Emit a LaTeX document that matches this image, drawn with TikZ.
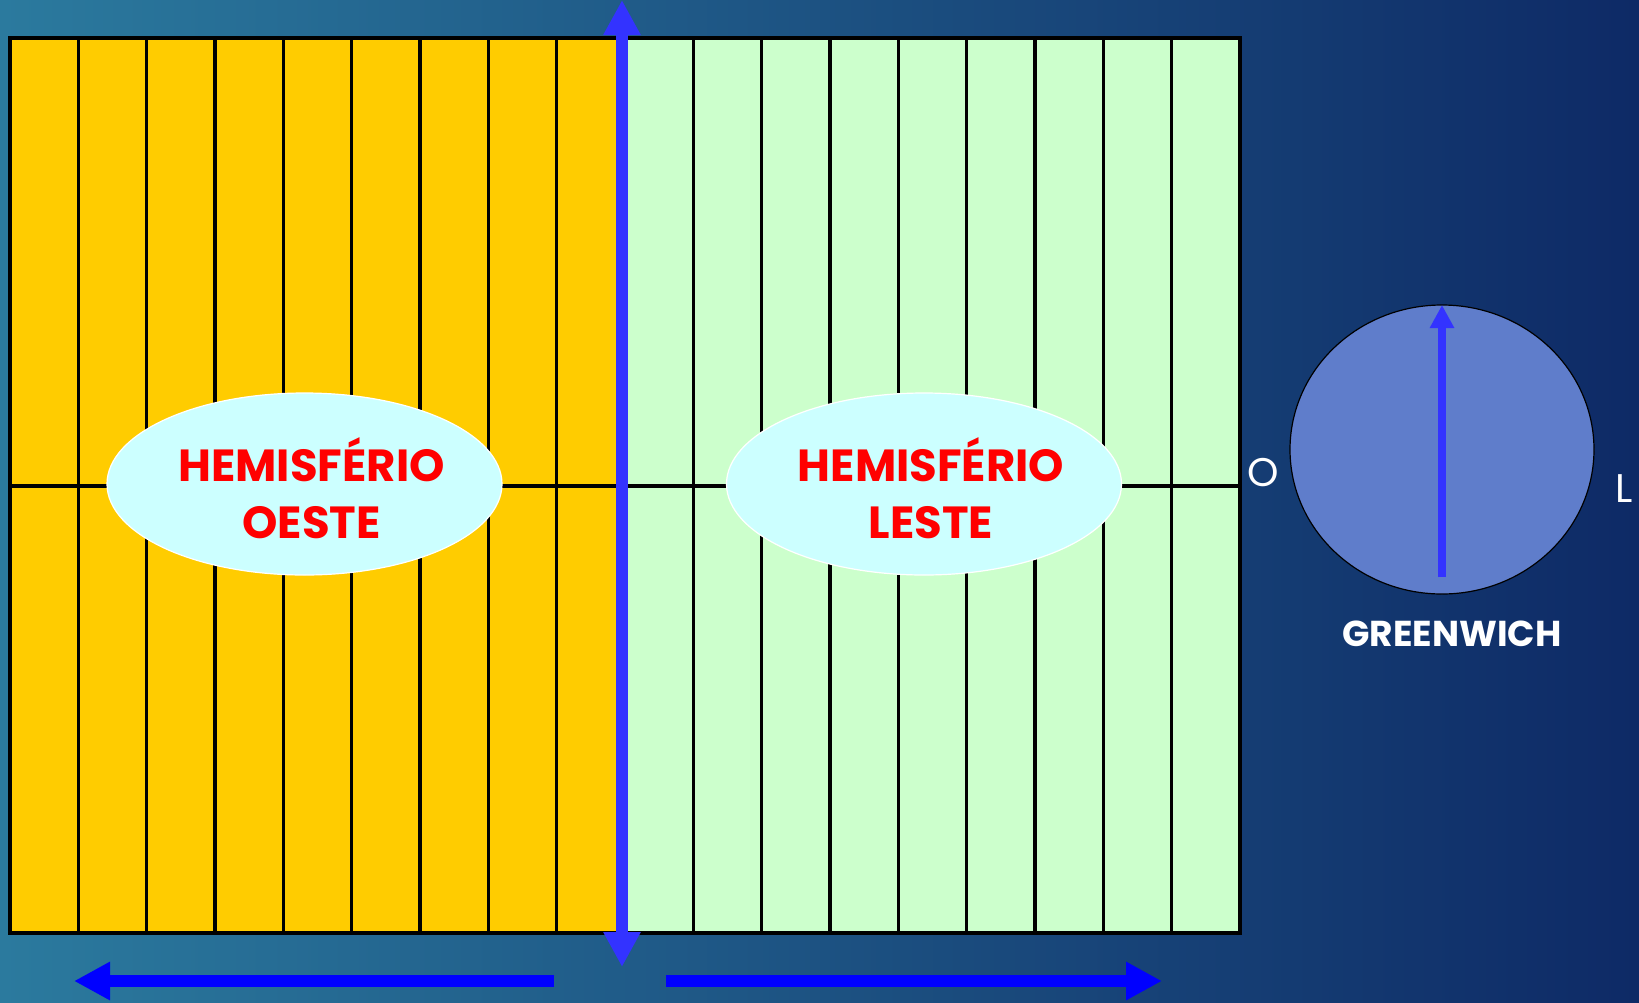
\documentclass[tikz,border=0pt]{standalone}
\usepackage{fontspec}
\setmainfont{Poppins}
\usetikzlibrary{arrows.meta,shapes.geometric}
\definecolor{seablue}{RGB}{43,122,158}
\definecolor{deepnavy}{RGB}{14,42,102}
\definecolor{westyellow}{RGB}{255,204,0}
\definecolor{eastgreen}{RGB}{204,255,204}
\definecolor{paleaqua}{RGB}{204,255,255}
\definecolor{globeblue}{RGB}{95,125,203}
\definecolor{axisblue}{RGB}{51,51,255}
\definecolor{pureblue}{RGB}{0,0,255}
\definecolor{hemired}{RGB}{255,0,0}

\begin{document}
\begin{tikzpicture}[x=0.5pt,y=-0.5pt,
    hemi/.style={ellipse,fill=paleaqua,draw=white,line width=0.6pt,
      minimum width=197.5pt,minimum height=91pt,inner sep=0pt},
    hemitext/.style={anchor=base,text=hemired,inner sep=0pt,
      font=\fontsize{22.5}{28}\selectfont\bfseries},
    sidetext/.style={anchor=base,text=white,inner sep=0pt,
      font=\fontsize{20}{24}\selectfont},
    globe/.style={ellipse,fill=globeblue,draw=black,line width=0.6pt,
      minimum width=152pt,minimum height=144.5pt,inner sep=0pt,outer sep=0pt},
    bigarrow/.style={line width=6pt,-{Triangle[length=18pt,width=18pt]}}]
       \useasboundingbox (0,0) rectangle (1639,1002);
       % background
       \shade[left color=seablue,middle color=seablue!72!deepnavy,right color=deepnavy]
         (0,0) rectangle (1639,1002);
       % the two halves of the grid
       \fill[westyellow] (10,38) rectangle (622,933);
       \fill[eastgreen] (622,38) rectangle (1240,933);
       \foreach \k in {1,...,17}
         \draw[line width=1.6pt] (10+68.33*\k,38) -- (10+68.33*\k,933);
       \draw[line width=1.6pt] (10,38) rectangle (1240,933);
       \draw[line width=1.6pt] (10,486) -- (1240,486);
       % hemispheres
       \node[hemi] (oeste) at (304.5,484) {};
       \node[hemi] (leste) at (924,484) {};
       \node[hemitext] (oesteA) at (311.5,481) {HEMISFÉRIO};
       \node[hemitext] (oesteB) at (311.5,538) {OESTE};
       \node[hemitext] (lesteA) at (931,481) {HEMISFÉRIO};
       \node[hemitext] (lesteB) at (931,538) {LESTE};
       % prime meridian
       \coordinate (gtop) at (622,0);
       \coordinate (gbot) at (622,967);
       \draw[axisblue,line width=6pt,
         {Triangle[length=17.5pt,width=17.5pt]}-{Triangle[length=17.5pt,width=17.5pt]}]
         (gtop) -- (gbot);
       \coordinate (wstart) at (554,981);
       \coordinate (wend) at (74,981);
       \coordinate (estart) at (666,981);
       \coordinate (eend) at (1162,981);
       \draw[pureblue,bigarrow] (wstart) -- (wend);
       \draw[pureblue,bigarrow] (estart) -- (eend);
       % globe
       \node[globe] (globe) at (1442,449.5) {};
       \coordinate (gfoot) at (1442,577);
       \draw[axisblue,line width=4pt,-{Triangle[length=11.5pt,width=11.5pt]}]
         (gfoot) -- (globe.north);
       \node[sidetext] (west) at (1263,486) {O};
       \node[sidetext] (east) at (1624,502) {L};
       \node[sidetext,font=\fontsize{18}{22}\selectfont\bfseries] (gname) at (1452,646) {GREENWICH};
\end{tikzpicture}
\end{document}
